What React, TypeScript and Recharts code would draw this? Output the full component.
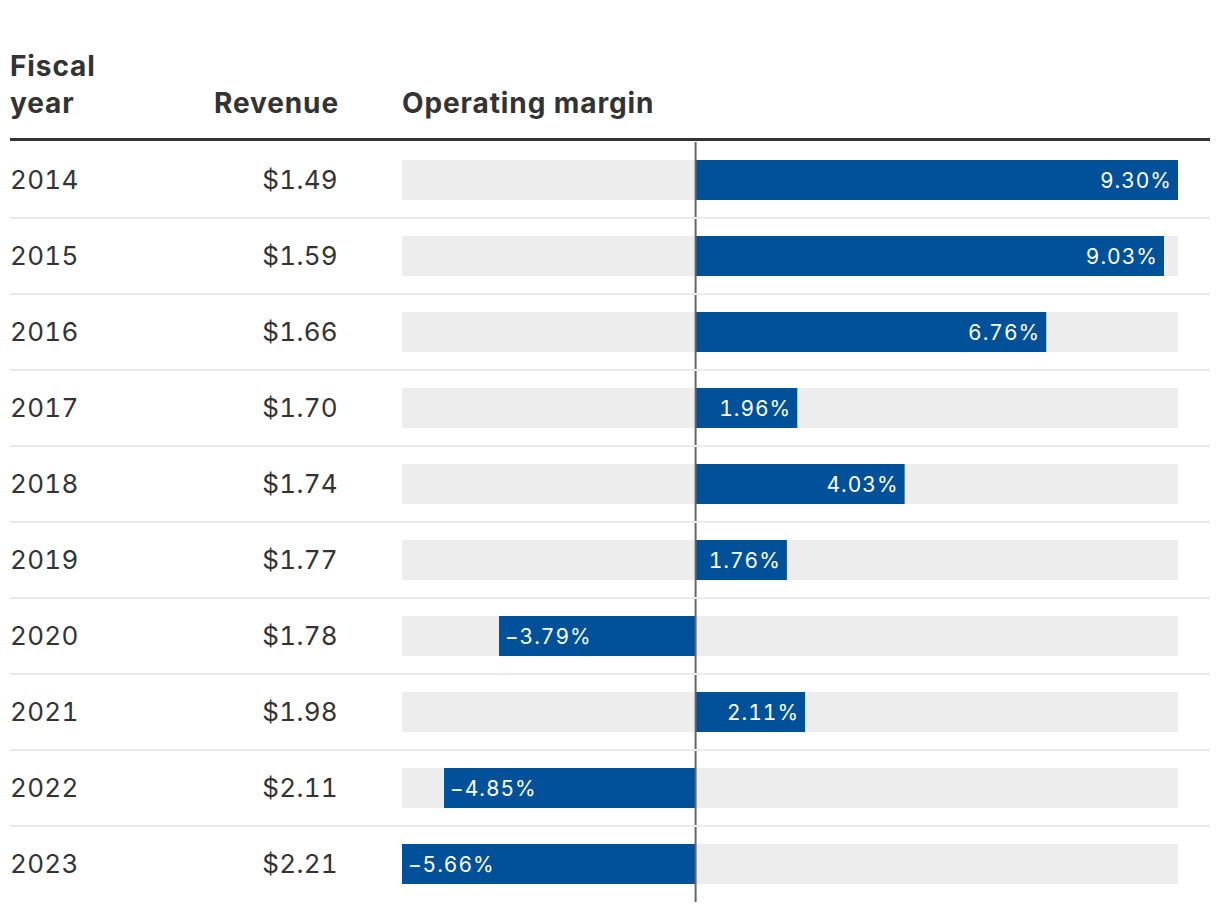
import { BarChart, Bar, XAxis, YAxis, ReferenceLine, LabelList } from "recharts"

const years = ["2014", "2015", "2016", "2017", "2018", "2019", "2020", "2021", "2022", "2023"]
const revenue = [1.49, 1.59, 1.66, 1.7, 1.74, 1.77, 1.78, 1.98, 2.11, 2.21]
const margin = [9.3, 9.03, 6.76, 1.96, 4.03, 1.76, -3.79, 2.11, -4.85, -5.66]

const data = years.map((year, i) => ({ year, revenue: revenue[i], margin: margin[i] }))

const FONT = "Inter, 'Noto Sans', sans-serif"
const TEXT = "#333333"
const BLUE = "#00519a"
const ROW_H = 76

const fmtPct = (v: number) => (v < 0 ? "\u2212" : "") + Math.abs(v).toFixed(2) + "%"

const rowText = {
  fontSize: 26,
  fill: TEXT,
  fontFamily: FONT,
  letterSpacing: 0.3,
  fontVariantNumeric: "tabular-nums",
} as const

function RowTick(props: any) {
  const { y, payload } = props
  const i = payload.index
  return (
    <g>
      <text x={10} y={y - 1} dominantBaseline="central" style={rowText}>
        {payload.value}
      </text>
      <text x={338} y={y - 1} dominantBaseline="central" textAnchor="end" style={rowText}>
        ${revenue[i].toFixed(2)}
      </text>
      {i < years.length - 1 && (
        <line x1={10} x2={1210} y1={y + ROW_H / 2} y2={y + ROW_H / 2} stroke="#ebebeb" strokeWidth={2} />
      )}
    </g>
  )
}

function BarLabel(props: any) {
  const { x, y, width, height, value } = props
  const left = Math.min(x, x + width)
  const right = Math.max(x, x + width)
  const neg = value < 0
  return (
    <text
      x={neg ? left + 6 : right - 6}
      y={y + height / 2}
      dominantBaseline="central"
      textAnchor={neg ? "start" : "end"}
      style={{ fontSize: 21, fill: "#ffffff", fontFamily: FONT, letterSpacing: 1, fontVariantNumeric: "tabular-nums" }}
    >
      {fmtPct(value)}
    </text>
  )
}

const head = { position: "absolute", fontSize: 28, fontWeight: 700, lineHeight: "37px", letterSpacing: 0.9 } as const

export default function App() {
  return (
    <div style={{ position: "absolute", left: 0, top: 0, width: 1220, height: 910, background: "#fff", fontFamily: FONT, color: TEXT }}>
      <div style={{ ...head, left: 10, top: 48 }}>
        Fiscal
        <br />
        year
      </div>
      <div style={{ ...head, right: 1220 - 339, top: 85 }}>Revenue</div>
      <div style={{ ...head, left: 402, top: 85 }}>Operating margin</div>
      <div style={{ position: "absolute", left: 10, top: 138, width: 1200, height: 3, background: TEXT }} />
      <BarChart
        width={1220}
        height={910}
        data={data}
        layout="vertical"
        margin={{ top: 142, right: 42, bottom: 8, left: 0 }}
        barSize={40}
      >
        <XAxis type="number" domain={[-5.66, 9.3]} hide />
        <YAxis
          type="category"
          dataKey="year"
          width={402}
          axisLine={false}
          tickLine={false}
          tick={<RowTick />}
          interval={0}
        />
        <Bar dataKey="margin" fill={BLUE} background={{ fill: "#ededed" }} isAnimationActive={false}>
          <LabelList dataKey="margin" content={<BarLabel />} />
        </Bar>
        <ReferenceLine x={0} stroke="#666666" strokeWidth={2} />
      </BarChart>
    </div>
  )
}
